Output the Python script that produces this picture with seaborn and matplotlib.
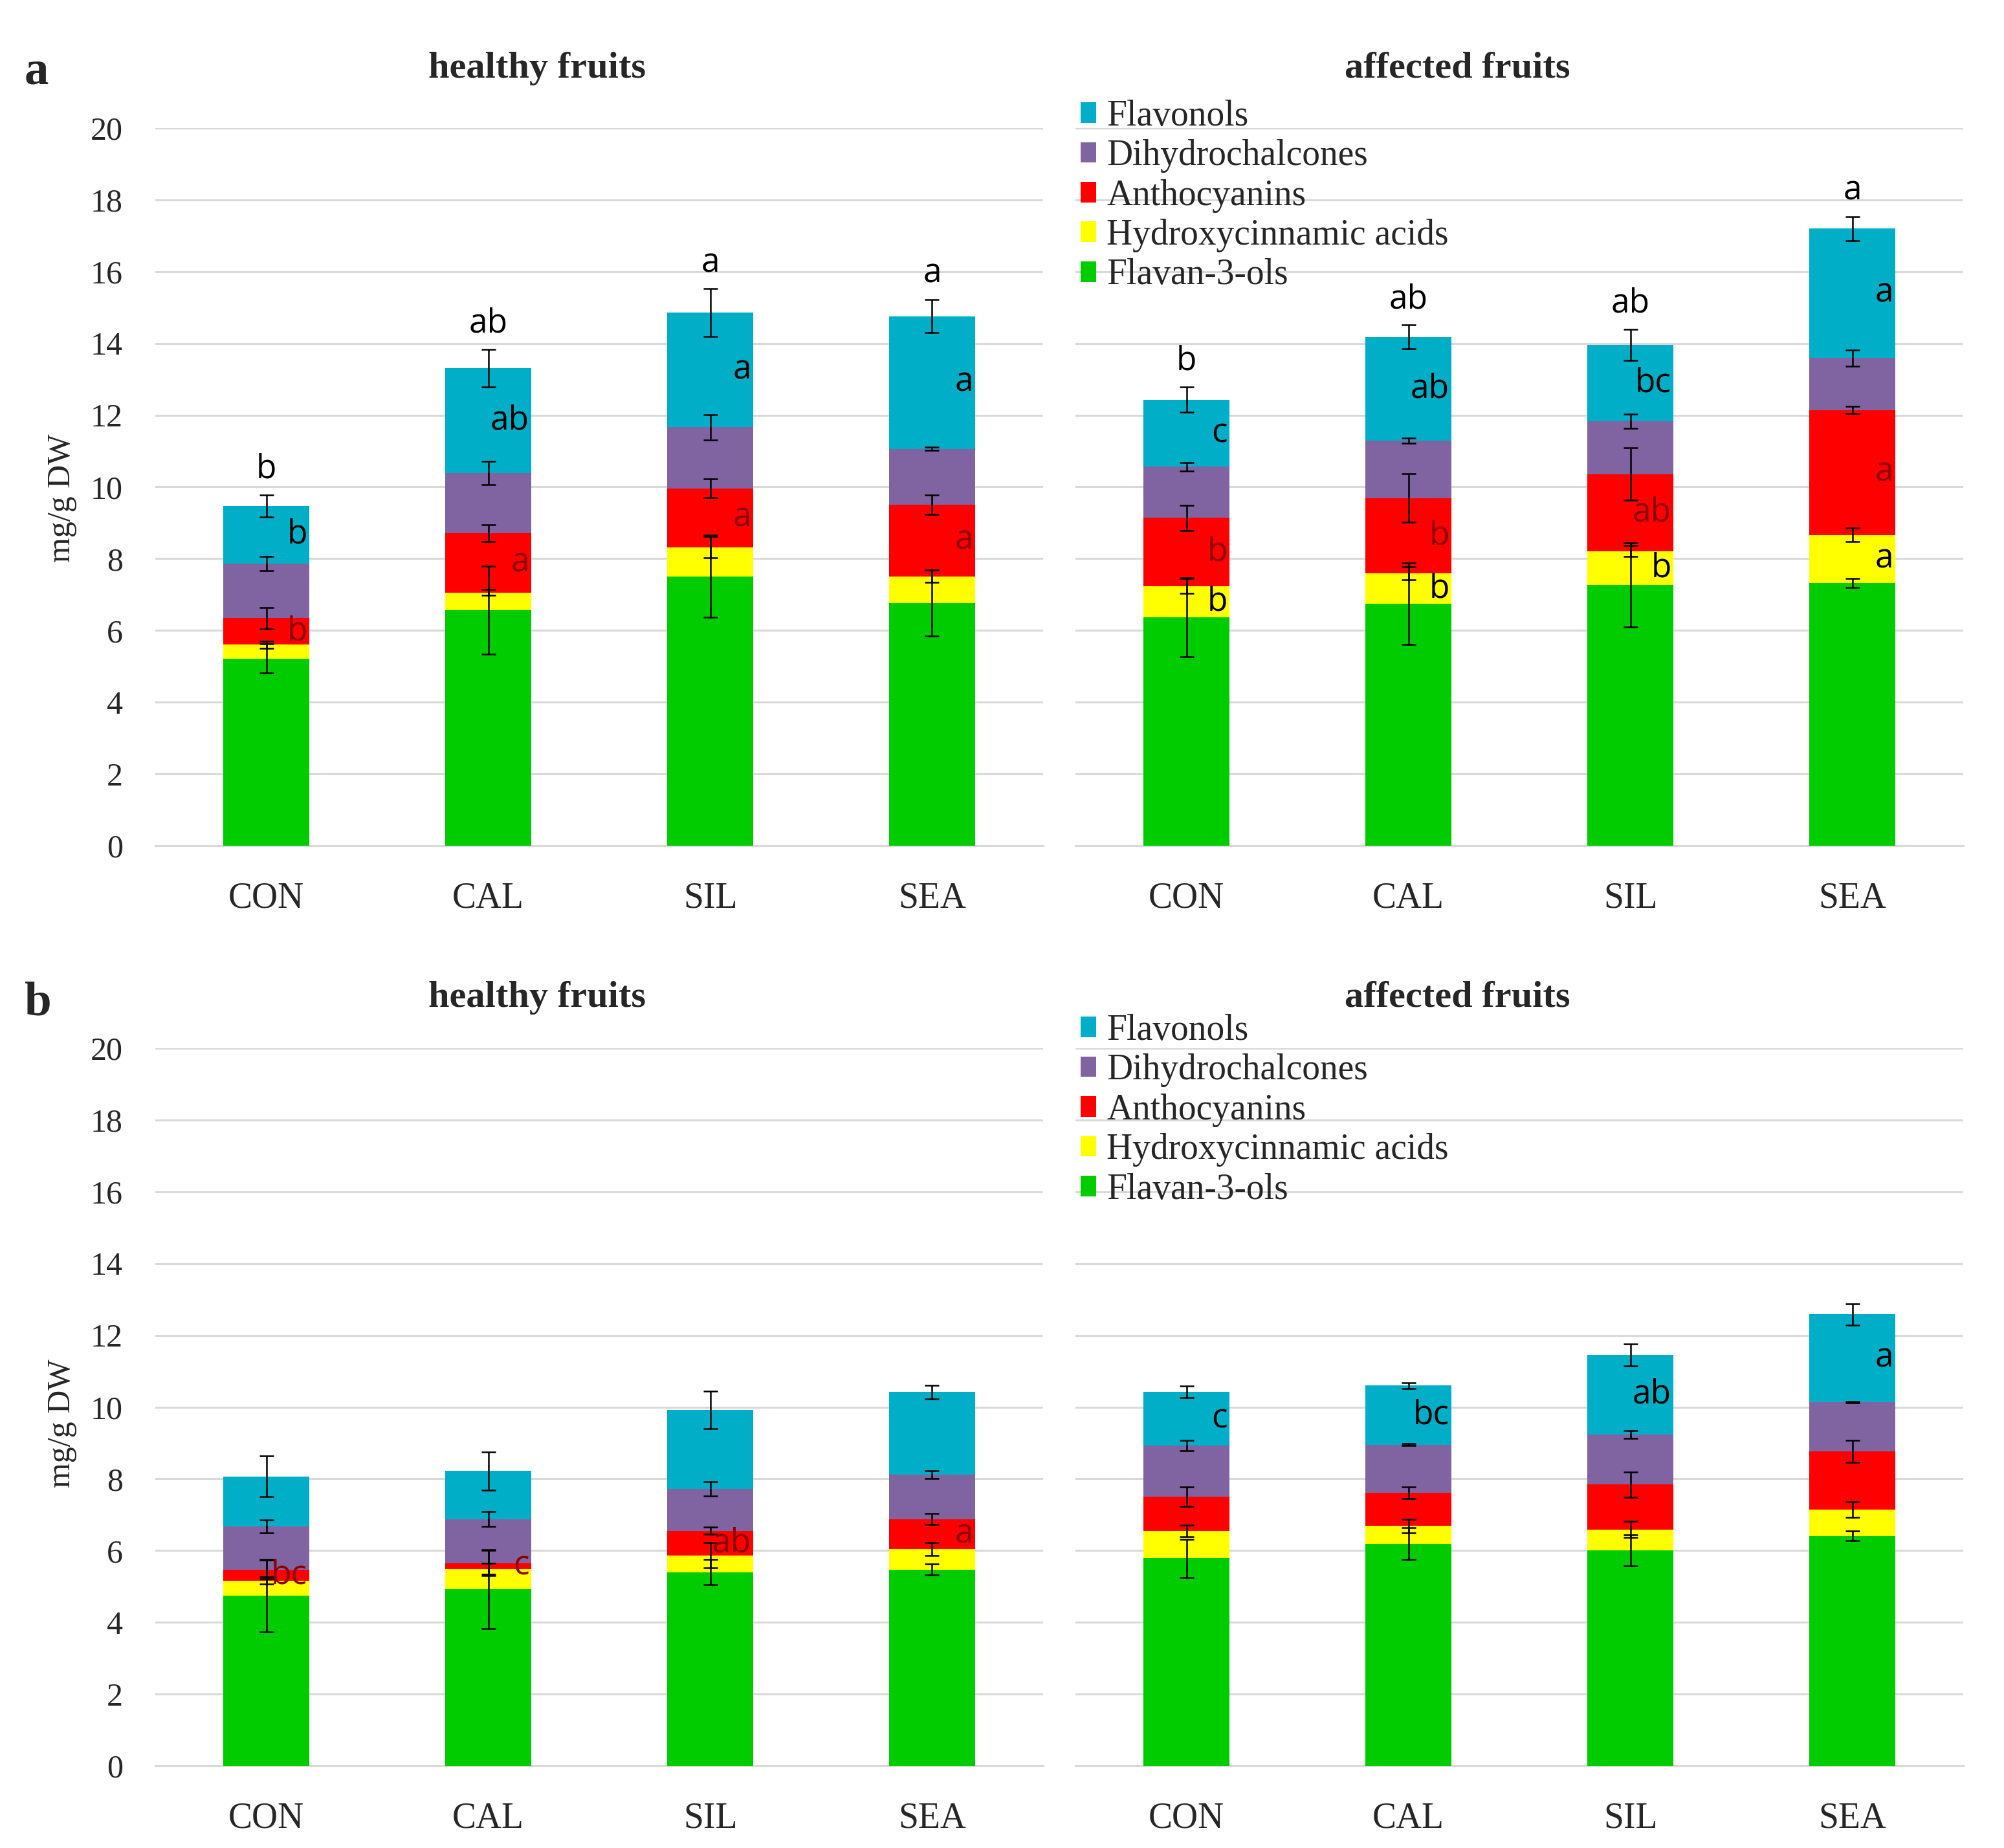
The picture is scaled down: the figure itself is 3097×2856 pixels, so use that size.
import numpy as np
import pandas as pd
import matplotlib
matplotlib.use("Agg")
import matplotlib.pyplot as plt
import seaborn as sns
from matplotlib.patches import Patch

# ---------------- data ----------------
treatments = ["CON", "CAL", "SIL", "SEA"]
components = ["Flavan-3-ols", "Hydroxycinnamic acids", "Anthocyanins",
              "Dihydrochalcones", "Flavonols"]
comp_colors = ["#00CC00", "#FFFF00", "#FF0000", "#8064A2", "#00AEC7"]

# component order: Flavan-3-ols, Hydroxycinnamic acids, Anthocyanins, Dihydrochalcones, Flavonols
a_healthy_mean = [[5.22, 6.56, 7.51, 6.77],
                  [0.38, 0.50, 0.81, 0.74],
                  [0.74, 1.65, 1.64, 2.00],
                  [1.53, 1.68, 1.70, 1.55],
                  [1.60, 2.92, 3.20, 3.70]]
a_healthy_err = [[0.40, 1.23, 1.15, 0.92],
                 [0.10, 0.08, 0.30, 0.17],
                 [0.30, 0.23, 0.26, 0.27],
                 [0.20, 0.32, 0.35, 0.05],
                 [0.30, 0.52, 0.66, 0.46]]

a_affected_mean = [[6.37, 6.74, 7.27, 7.32],
                   [0.87, 0.85, 0.94, 1.34],
                   [1.90, 2.10, 2.15, 3.48],
                   [1.42, 1.60, 1.47, 1.45],
                   [1.87, 2.89, 2.13, 3.61]]
a_affected_err = [[1.10, 1.14, 1.17, 0.12],
                  [0.20, 0.18, 0.15, 0.19],
                  [0.35, 0.68, 0.73, 0.10],
                  [0.12, 0.08, 0.20, 0.22],
                  [0.35, 0.33, 0.43, 0.33]]

b_healthy_mean = [[4.74, 4.92, 5.40, 5.47],
                  [0.42, 0.57, 0.47, 0.58],
                  [0.31, 0.16, 0.68, 0.83],
                  [1.21, 1.23, 1.17, 1.24],
                  [1.39, 1.34, 2.20, 2.30]]
b_healthy_err = [[1.01, 1.10, 0.35, 0.15],
                 [0.10, 0.15, 0.35, 0.18],
                 [0.26, 0.35, 0.10, 0.16],
                 [0.18, 0.21, 0.20, 0.11],
                 [0.56, 0.53, 0.53, 0.19]]

b_affected_mean = [[5.78, 6.19, 6.01, 6.41],
                   [0.76, 0.50, 0.58, 0.73],
                   [0.96, 0.92, 1.25, 1.62],
                   [1.43, 1.34, 1.40, 1.37],
                   [1.49, 1.65, 2.21, 2.45]]
b_affected_err = [[0.54, 0.44, 0.43, 0.13],
                  [0.16, 0.19, 0.22, 0.22],
                  [0.27, 0.16, 0.35, 0.31],
                  [0.15, 0.03, 0.11, 0.02],
                  [0.16, 0.08, 0.30, 0.29]]

# significance letters
a_healthy_total_letters = ["b", "ab", "a", "a"]
a_healthy_flavonol_letters = ["b", "ab", "a", "a"]
a_healthy_antho_letters = ["b", "a", "a", "a"]
a_affected_total_letters = ["b", "ab", "ab", "a"]
a_affected_flavonol_letters = ["c", "ab", "bc", "a"]
a_affected_antho_letters = ["b", "b", "ab", "a"]
a_affected_hydroxy_letters = ["b", "b", "b", "a"]
b_healthy_antho_letters = ["bc", "c", "ab", "a"]
b_affected_flavonol_letters = ["c", "bc", "ab", "a"]

panel_titles = ["healthy fruits", "affected fruits"]
y_label = "mg/g DW"
y_ticks = list(range(0, 21, 2))

# ---------------- style ----------------
sns.set_theme(style="white")
plt.rcParams["font.family"] = ["Liberation Serif", "DejaVu Serif"]

W, H = 3097, 2856
fig = plt.figure(figsize=(W / 100, H / 100), dpi=100)

GRID = "#D9D9D9"
BAR_W = 0.39
LETTER_FONT = ["Open Sans", "DejaVu Sans"]
LETTER_SIZE = 37
RED_TXT = "#8B0000"


def draw_panel(ax, means, errs, show_yticks, total_letters=None, seg_letters=()):
    means = np.array(means)
    errs = np.array(errs)
    cum = np.cumsum(means, axis=0)
    for i in reversed(range(len(components))):
        df = pd.DataFrame({"treatment": treatments, "value": cum[i]})
        sns.barplot(data=df, x="treatment", y="value", order=treatments,
                    color=comp_colors[i], saturation=1, width=BAR_W,
                    errorbar=None, linewidth=0, ax=ax, zorder=2)
    xpos = np.arange(len(treatments))
    for i in range(len(components)):
        ax.errorbar(xpos, cum[i], yerr=errs[i], fmt="none", ecolor="black",
                    elinewidth=1.8, capsize=8, capthick=1.8, zorder=5)
    if total_letters is not None:
        for xi, lt in enumerate(total_letters):
            ax.annotate(lt, (xi, cum[-1][xi] + errs[-1][xi]), xytext=(0, 19),
                        textcoords="offset points", ha="center", va="baseline",
                        fontsize=LETTER_SIZE, family=LETTER_FONT, color="black",
                        zorder=6)
    for comp_idx, letters, col in seg_letters:
        for xi, lt in enumerate(letters):
            ymid = cum[comp_idx][xi] - means[comp_idx][xi] / 2
            ax.text(xi + 0.185, ymid, lt, ha="right", va="center",
                    fontsize=LETTER_SIZE, family=LETTER_FONT, color=col, zorder=6)

    ax.set_xlim(-0.5, 3.5)
    ax.set_ylim(0, 20)
    ax.set_yticks(y_ticks)
    ax.yaxis.grid(True, color=GRID, linewidth=2.2)
    ax.xaxis.grid(False)
    ax.set_axisbelow(True)
    for s in ["top", "right", "left"]:
        ax.spines[s].set_visible(False)
    ax.spines["bottom"].set_color(GRID)
    ax.spines["bottom"].set_linewidth(2.2)
    ax.spines["bottom"].set_zorder(1)
    ax.set_xlabel("")
    ax.set_ylabel("")
    ax.tick_params(axis="x", length=0, pad=40, labelsize=40)
    ax.tick_params(axis="y", length=0, pad=36, labelsize=36)
    if not show_yticks:
        ax.tick_params(axis="y", labelleft=False)


def add_legend(ax, top):
    handles = [Patch(facecolor=comp_colors[i], edgecolor="none", label=components[i])
               for i in reversed(range(len(components)))]
    ax.legend(handles=handles, loc="upper left", bbox_to_anchor=(0.006, top),
              frameon=False, fontsize=40, handlelength=0.42, handleheight=0.5,
              handletextpad=0.3, labelspacing=0.17, borderpad=0, borderaxespad=0)


left_x, right_x, ax_w = 240 / W, 1662 / W, 1372 / W
a_bot, b_bot, ax_h = 1 - 1307 / H, 1 - 2729 / H, 1109 / H

ax_ah = fig.add_axes([left_x, a_bot, ax_w, ax_h])
ax_aa = fig.add_axes([right_x, a_bot, ax_w, ax_h])
ax_bh = fig.add_axes([left_x, b_bot, ax_w, ax_h])
ax_ba = fig.add_axes([right_x, b_bot, ax_w, ax_h])

draw_panel(ax_ah, a_healthy_mean, a_healthy_err, True, a_healthy_total_letters,
           [(4, a_healthy_flavonol_letters, "black"),
            (2, a_healthy_antho_letters, RED_TXT)])
draw_panel(ax_aa, a_affected_mean, a_affected_err, False, a_affected_total_letters,
           [(4, a_affected_flavonol_letters, "black"),
            (2, a_affected_antho_letters, RED_TXT),
            (1, a_affected_hydroxy_letters, "black")])
draw_panel(ax_bh, b_healthy_mean, b_healthy_err, True, None,
           [(2, b_healthy_antho_letters, RED_TXT)])
draw_panel(ax_ba, b_affected_mean, b_affected_err, False, None,
           [(4, b_affected_flavonol_letters, "black")])

add_legend(ax_aa, 1.040)
add_legend(ax_ba, 1.048)

# titles, panel letters, y labels
for ytitle, yletter, letter, ylab in [(1 - 120 / H, 1 - 130 / H, "a", 1 - 770 / H),
                                       (1 - 1556 / H, 1 - 1568 / H, "b", 1 - 2200 / H)]:
    fig.text(830 / W, ytitle, panel_titles[0], ha="center", va="baseline",
             fontsize=42, fontweight="bold")
    fig.text(2252 / W, ytitle, panel_titles[1], ha="center", va="baseline",
             fontsize=42, fontweight="bold")
    fig.text(38 / W, yletter, letter, ha="left", va="baseline",
             fontsize=54, fontweight="bold")
    fig.text(96 / W, ylab, y_label, ha="center", va="center", rotation=90,
             fontsize=36)

fig.savefig("out.png", dpi=100, facecolor="white")
